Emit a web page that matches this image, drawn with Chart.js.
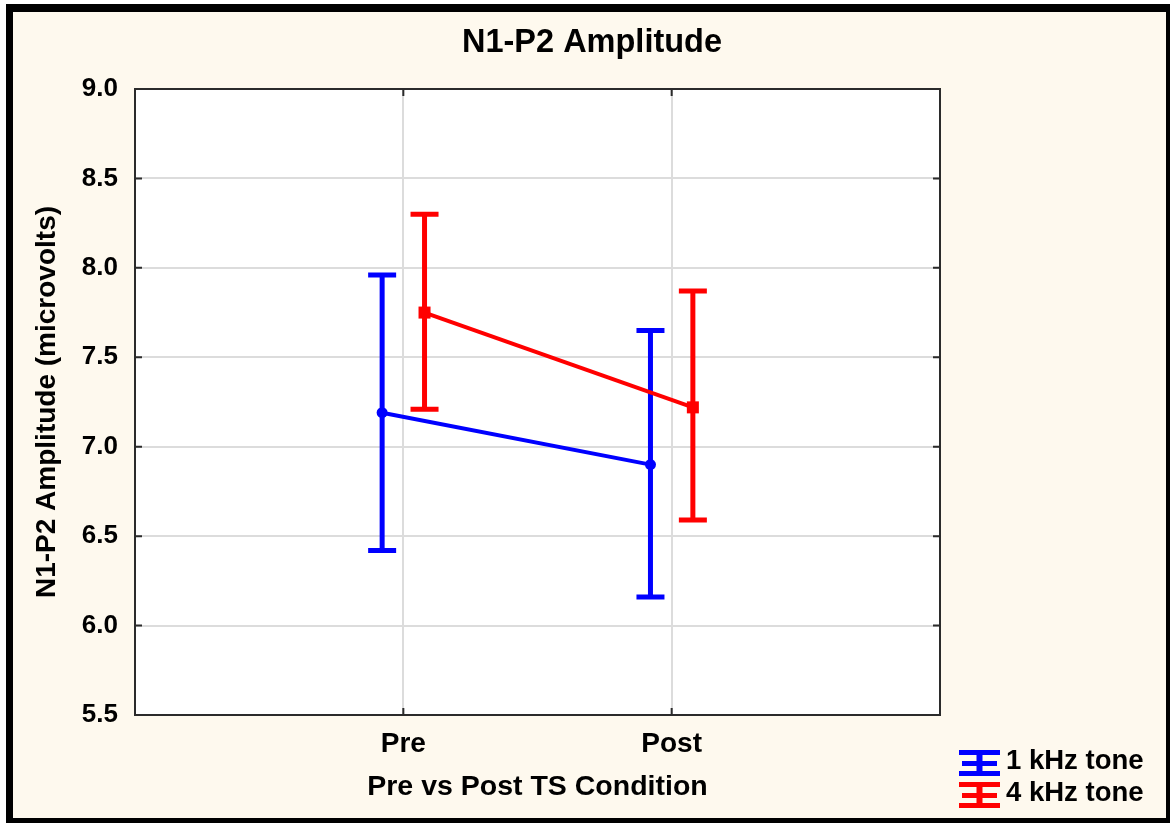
<!DOCTYPE html>
<html>
<head>
<meta charset="utf-8">
<script src="https://cdn.jsdelivr.net/npm/chart.js@4.4.1/dist/chart.umd.min.js"></script>
<style>
  html, body { margin: 0; padding: 0; background: #ffffff; width: 1170px; height: 823px; overflow: hidden; }
  #frame { position: absolute; left: 6px; top: 4px; width: 1164px; height: 819px; box-sizing: border-box;
           background: #FEF9EE; border-style: solid; border-color: #000;
           border-width: 8px 4px 5px 7px; }
  #c { position: absolute; left: 0; top: 0; }
</style>
</head>
<body>
<div id="frame"></div>
<canvas id="c" width="1170" height="823"></canvas>
<script>
// ---- data ----
const categories = ['Pre', 'Post'];
const seriesLabels = ['1 kHz tone', '4 kHz tone'];
const seriesColors = ['#0000FF', '#FF0000'];
const means1k = [7.19, 6.90];
const upper1k = [7.96, 7.65];
const lower1k = [6.42, 6.16];
const means4k = [7.75, 7.22];
const upper4k = [8.30, 7.87];
const lower4k = [7.21, 6.59];
const yMin = 5.5, yMax = 9.0, yStep = 0.5;

const FONT = '"Liberation Sans", Arial, Helvetica, sans-serif';
const GROUP_OFFSET = 0.079; // horizontal dodge between series (in category units)

function makePoints(means, shift) {
  return categories.map((c, i) => ({ x: i + 1 + shift, y: means[i] }));
}

const errorBars = {
  id: 'errorBars',
  beforeDatasetDraw(chart, args) {
    const ds = chart.data.datasets[args.index];
    if (!ds.errUpper) return;
    const ctx = chart.ctx, ys = chart.scales.y;
    const half = 14;
    ctx.save();
    ctx.strokeStyle = ds.borderColor;
    ctx.lineWidth = 5;
    ctx.lineCap = 'butt';
    args.meta.data.forEach((pt, i) => {
      const x = pt.x;
      const yu = ys.getPixelForValue(ds.errUpper[i]);
      const yl = ys.getPixelForValue(ds.errLower[i]);
      ctx.beginPath();
      ctx.moveTo(x, yu); ctx.lineTo(x, yl);
      ctx.moveTo(x - half, yu); ctx.lineTo(x + half, yu);
      ctx.moveTo(x - half, yl); ctx.lineTo(x + half, yl);
      ctx.stroke();
    });
    ctx.restore();
  }
};

const frameDecor = {
  id: 'frameDecor',
  beforeDraw(chart) {
    const { ctx, chartArea: a } = chart;
    ctx.save();
    ctx.fillStyle = '#ffffff';
    ctx.fillRect(a.left, a.top, a.right - a.left, a.bottom - a.top);
    ctx.restore();
  },
  afterDraw(chart) {
    const { ctx, chartArea: a } = chart;
    const xs = chart.scales.x, ys = chart.scales.y;
    ctx.save();
    ctx.strokeStyle = '#2b2b2b';
    ctx.lineWidth = 2;
    ctx.strokeRect(a.left, a.top, a.right - a.left, a.bottom - a.top);
    const tl = 7;
    ctx.beginPath();
    ys.ticks.forEach(t => {
      const py = ys.getPixelForValue(t.value);
      ctx.moveTo(a.left, py); ctx.lineTo(a.left + tl, py);
      ctx.moveTo(a.right, py); ctx.lineTo(a.right - tl, py);
    });
    xs.ticks.forEach(t => {
      const px = xs.getPixelForValue(t.value);
      ctx.moveTo(px, a.bottom); ctx.lineTo(px, a.bottom - tl);
      ctx.moveTo(px, a.top); ctx.lineTo(px, a.top + tl);
    });
    ctx.stroke();

    // legend (bottom right)
    const x0 = 959, w = 41, rowTop = 763, rowGap = 32;
    ctx.font = 'bold 27.5px ' + FONT;
    ctx.textBaseline = 'middle';
    ctx.textAlign = 'left';
    seriesLabels.forEach((lab, i) => {
      const cy = rowTop + i * rowGap;
      ctx.fillStyle = seriesColors[i];
      ctx.fillRect(x0, cy - 13, w, 5);
      ctx.fillRect(x0 + 3, cy - 2, w - 6, 5);
      ctx.fillRect(x0, cy + 8, w, 5);
      ctx.fillRect(x0 + w / 2 - 3, cy - 13, 6, 26);
      ctx.fillStyle = '#000';
      ctx.fillText(lab, x0 + w + 6, cy - 2);
    });
    ctx.restore();
  }
};

const data = {
  datasets: [
    {
      label: seriesLabels[0],
      data: makePoints(means1k, -GROUP_OFFSET),
      errUpper: upper1k, errLower: lower1k,
      borderColor: seriesColors[0], backgroundColor: seriesColors[0],
      borderWidth: 4, pointStyle: 'circle', pointRadius: 5.5, pointBorderWidth: 0,
      order: 2
    },
    {
      label: seriesLabels[1],
      data: makePoints(means4k, GROUP_OFFSET),
      errUpper: upper4k, errLower: lower4k,
      borderColor: seriesColors[1], backgroundColor: seriesColors[1],
      borderWidth: 4, pointStyle: 'rect', pointRadius: 8.5, pointBorderWidth: 0,
      order: 1
    }
  ]
};

new Chart(document.getElementById('c'), {
  type: 'line',
  data,
  plugins: [frameDecor, errorBars],
  options: {
    responsive: false,
    animation: false,
    layout: { padding: { left: 14, top: 0, right: 0, bottom: 0 } },
    plugins: {
      legend: { display: false },
      tooltip: { enabled: false },
      title: {
        display: true, text: 'N1-P2 Amplitude', color: '#000',
        font: { family: FONT, size: 32.5, weight: 'bold', lineHeight: 1.2 },
        padding: { top: 24, bottom: 26 }
      }
    },
    scales: {
      x: {
        type: 'linear', min: 0, max: categories.length + 1,
        afterBuildTicks(s) { s.ticks = categories.map((c, i) => ({ value: i + 1 })); },
        ticks: {
          callback: v => categories[v - 1] ?? '',
          color: '#000', font: { family: FONT, size: 28, weight: 'bold', lineHeight: 1.2 },
          padding: 12, autoSkip: false, maxRotation: 0
        },
        grid: { drawTicks: false, color: '#dcdcdc', lineWidth: 2 },
        border: { display: false },
        title: {
          display: true, text: 'Pre vs Post TS Condition', color: '#000',
          font: { family: FONT, size: 28.5, weight: 'bold', lineHeight: 1.2 },
          padding: { top: 0, bottom: 18.5 }
        },
        afterFit(s) { s.height = 108; }
      },
      y: {
        min: yMin, max: yMax,
        ticks: {
          stepSize: yStep, callback: v => Number(v).toFixed(1),
          color: '#000', font: { family: FONT, size: 26, weight: 'bold' }, padding: 17
        },
        grid: { drawTicks: false, color: '#dcdcdc', lineWidth: 2 },
        border: { display: false },
        title: {
          display: true, text: 'N1-P2 Amplitude (microvolts)', color: '#000',
          font: { family: FONT, size: 28, weight: 'bold', lineHeight: 1.2 },
          padding: { top: 16, bottom: 0 }
        },
        afterFit(s) { s.width = 121; }
      },
      yR: {
        axis: 'y', position: 'right', display: true,
        grid: { display: false }, border: { display: false }, ticks: { display: false },
        afterFit(s) { s.width = 230; }
      }
    }
  }
});
</script>
</body>
</html>
